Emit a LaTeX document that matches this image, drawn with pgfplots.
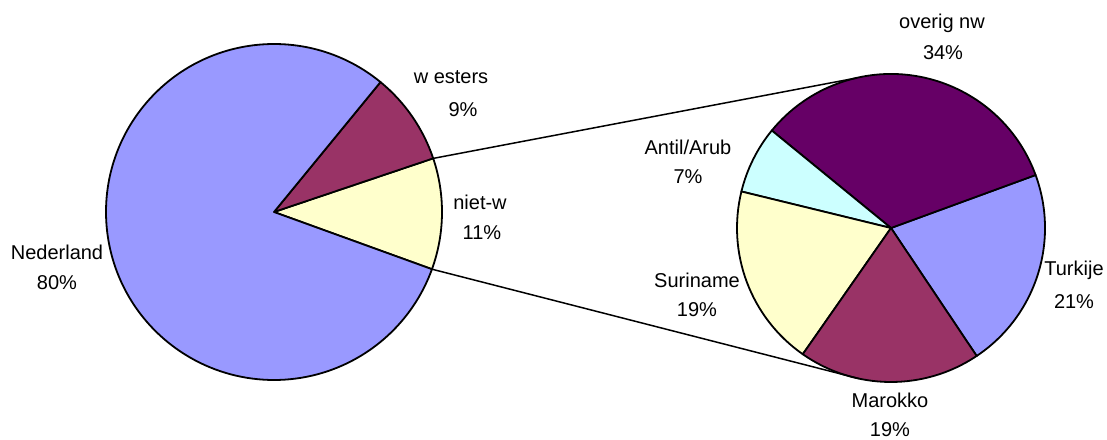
\documentclass[border=0pt]{standalone}
\usepackage{pgfplots}
\pgfplotsset{compat=1.18}
\usepackage{fontspec}
\setmainfont{Liberation Sans}

\definecolor{cNed}{HTML}{9999FF}
\definecolor{cWest}{HTML}{993366}
\definecolor{cNiet}{HTML}{FFFFCC}
\definecolor{cOverig}{HTML}{660066}
\definecolor{cTurk}{HTML}{9999FF}
\definecolor{cMar}{HTML}{993366}
\definecolor{cSur}{HTML}{FFFFCC}
\definecolor{cAnt}{HTML}{CCFFFF}

\tikzset{lbl/.style={font=\fontsize{20}{24}\selectfont, inner sep=0pt, anchor=center}}

% \piewedges{cx}{cy}{r}{start angle}{value/colour list}
\newcommand\piewedges[5]{%
  \gdef\angA{#4}%
  \foreach \v/\c in {#5}{%
    \pgfmathsetmacro\angB{\angA+3.6*\v}%
    \pgfmathsetmacro\px{#1+#3*cos(\angA)}%
    \pgfmathsetmacro\py{#2+#3*sin(\angA)}%
    \edef\temp{\noexpand\filldraw[fill=\c, draw=black, line width=1.8pt, line join=round]
      (axis cs:#1,#2) -- (axis cs:\px,\py) arc[start angle=\angA, end angle=\angB, radius=#3pt] -- cycle;}%
    \temp
    \global\let\angA\angB
  }%
}

\begin{document}
\begin{tikzpicture}
\begin{axis}[width=1107pt, height=439pt, scale only axis, hide axis, clip=false,
  disabledatascaling,
  xmin=0, xmax=1107, ymin=-439, ymax=0]

% left pie: niet-w, westers, Nederland (percent)
\piewedges{274}{-212}{168}{-19.9}{10.7/cNiet, 8.9/cWest, 80.4/cNed}

% right pie: breakdown of niet-w
\piewedges{891}{-228}{154}{-56.2}{21.2/cTurk, 33.5/cOverig, 7.1/cAnt, 19.1/cSur, 19.1/cMar}

% connector lines
\addplot[black, line width=1.5pt] coordinates {(433.2,-158.4) (856.4,-78)};
\addplot[black, line width=1.5pt] coordinates {(432,-269.2) (859,-378.6)};

% labels
\node[lbl] at (axis cs:451,-77) {w esters};
\node[lbl] at (axis cs:463,-110) {9\%};
\node[lbl] at (axis cs:480,-202) {niet-w};
\node[lbl] at (axis cs:482,-233) {11\%};
\node[lbl] at (axis cs:57,-252) {Nederland};
\node[lbl] at (axis cs:57,-283) {80\%};
\node[lbl] at (axis cs:942,-23) {overig nw};
\node[lbl] at (axis cs:943,-53) {34\%};
\node[lbl] at (axis cs:688,-147) {Antil/Arub};
\node[lbl] at (axis cs:688,-177) {7\%};
\node[lbl] at (axis cs:697,-280) {Suriname};
\node[lbl] at (axis cs:697,-310) {19\%};
\node[lbl] at (axis cs:890,-400) {Marokko};
\node[lbl] at (axis cs:890,-430) {19\%};
\node[lbl] at (axis cs:1074,-270) {Turkije};
\node[lbl] at (axis cs:1074,-302) {21\%};
\end{axis}
\pgfresetboundingbox
\path[use as bounding box] (current axis.south west) rectangle (current axis.north east);
\end{tikzpicture}
\end{document}
